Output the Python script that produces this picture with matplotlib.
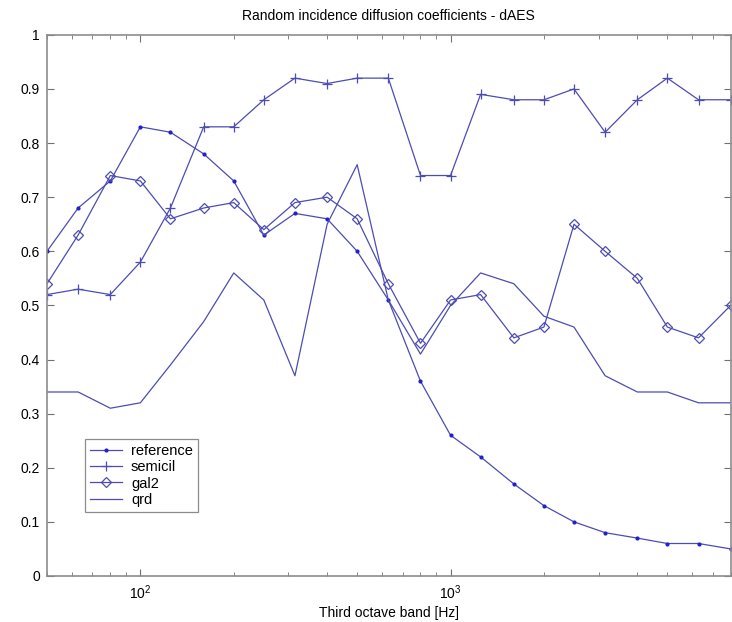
import matplotlib
matplotlib.use("Agg")
import matplotlib.pyplot as plt
from matplotlib.ticker import LogLocator, NullFormatter, FixedLocator

plt.rcParams['font.family'] = ['Liberation Sans', 'DejaVu Sans']

freqs = [50, 63, 80, 100, 125, 160, 200, 250, 315, 400, 500, 630,
         800, 1000, 1250, 1600, 2000, 2500, 3150, 4000, 5000, 6300, 8000]
reference = [0.60, 0.68, 0.73, 0.83, 0.82, 0.78, 0.73, 0.63, 0.67, 0.66, 0.60, 0.51,
             0.36, 0.26, 0.22, 0.17, 0.13, 0.10, 0.08, 0.07, 0.06, 0.06, 0.05]
semicil = [0.52, 0.53, 0.52, 0.58, 0.68, 0.83, 0.83, 0.88, 0.92, 0.91, 0.92, 0.92,
           0.74, 0.74, 0.89, 0.88, 0.88, 0.90, 0.82, 0.88, 0.92, 0.88, 0.88]
gal2 = [0.54, 0.63, 0.74, 0.73, 0.66, 0.68, 0.69, 0.64, 0.69, 0.70, 0.66, 0.54,
        0.43, 0.51, 0.52, 0.44, 0.46, 0.65, 0.60, 0.55, 0.46, 0.44, 0.50]
qrd = [0.34, 0.34, 0.31, 0.32, 0.39, 0.47, 0.56, 0.51, 0.37, 0.65, 0.76, 0.51,
       0.41, 0.50, 0.56, 0.54, 0.48, 0.46, 0.37, 0.34, 0.34, 0.32, 0.32]

title = "Random incidence diffusion coefficients - dAES"
xlabel = "Third octave band [Hz]"
yticks = [0, 0.1, 0.2, 0.3, 0.4, 0.5, 0.6, 0.7, 0.8, 0.9, 1]
ytick_labels = ["0", "0.1", "0.2", "0.3", "0.4", "0.5", "0.6", "0.7", "0.8", "0.9", "1"]

col = '#4c4cb4'
fig = plt.figure(figsize=(7.32, 6.22), dpi=100)
ax = fig.add_axes([0.0642, 0.074, 0.934, 0.870])

lw = 0.9
ax.plot(freqs, reference, '-', marker='.', color=col, lw=lw, markersize=4,
        markerfacecolor='#2020d0', markeredgecolor='#2020d0', label='reference')
ax.plot(freqs, semicil, '-', marker='+', color=col, lw=lw, markersize=7,
        markeredgewidth=0.9, label='semicil')
ax.plot(freqs, gal2, '-', marker='D', color=col, lw=lw, markersize=5.5,
        markerfacecolor='none', markeredgewidth=0.9, label='gal2')
ax.plot(freqs, qrd, '-', color=col, lw=lw, label='qrd')

ax.set_xscale('log')
ax.set_xlim(50, 8000)
ax.set_ylim(0, 1)
ax.set_yticks(yticks)
ax.set_yticklabels(ytick_labels)
ax.xaxis.set_major_locator(FixedLocator([100, 1000]))
ax.xaxis.set_minor_locator(LogLocator(base=10, subs=range(2, 10), numticks=20))
ax.xaxis.set_minor_formatter(NullFormatter())

for s in ax.spines.values():
    s.set_color('#8c8c8c')
    s.set_linewidth(1.2)
ax.tick_params(which='both', direction='in', top=True, right=True,
               color='#707070', labelsize=10, labelcolor='black')
ax.tick_params(which='major', length=5, pad=5)
ax.tick_params(which='minor', length=3)

ax.set_title(title, fontsize=10, pad=11)
ax.set_xlabel(xlabel, fontsize=10, labelpad=3)

leg = ax.legend(loc='lower left', bbox_to_anchor=(0.045, 0.105), fontsize=10.5,
                frameon=True, fancybox=False, handlelength=2.2, borderpad=0.35,
                labelspacing=0.15, handletextpad=0.6)
leg.get_frame().set_edgecolor('#707070')
leg.get_frame().set_linewidth(0.9)

fig.savefig('out.png', dpi=100)
